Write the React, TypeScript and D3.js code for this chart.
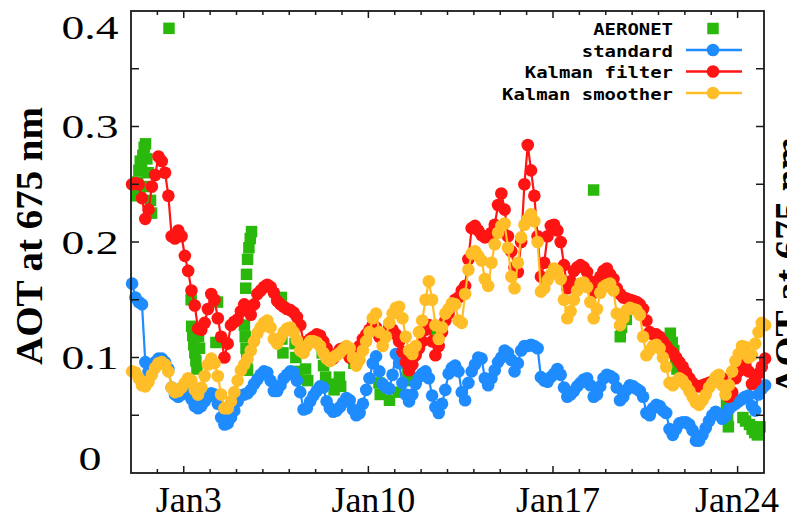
import React from 'react';
import * as d3 from 'd3';

const W = 787;
const H = 520;

const startDate = new Date(2013, 0, 1);
const endDate = new Date(2013, 0, 25);

// Model AOT, one value every 3 hours starting Jan 1 01:00 (8 per row = 1 day)
const standardAot = [
  0.164, 0.152, 0.148, 0.146, 0.096, 0.088, 0.090, 0.096,
  0.099, 0.099, 0.096, 0.090, 0.074, 0.068, 0.066, 0.068,
  0.072, 0.070, 0.064, 0.058, 0.056, 0.058, 0.062, 0.066,
  0.069, 0.068, 0.060, 0.048, 0.042, 0.043, 0.048, 0.054,
  0.062, 0.067, 0.068, 0.069, 0.072, 0.077, 0.081, 0.085,
  0.088, 0.087, 0.080, 0.071, 0.071, 0.076, 0.082, 0.085,
  0.088, 0.087, 0.080, 0.070, 0.055, 0.056, 0.062, 0.067,
  0.071, 0.075, 0.074, 0.062, 0.056, 0.053, 0.054, 0.057,
  0.061, 0.065, 0.063, 0.055, 0.050, 0.052, 0.060, 0.072,
  0.082, 0.095, 0.101, 0.088, 0.077, 0.074, 0.073, 0.085,
  0.103, 0.095, 0.078, 0.068, 0.062, 0.068, 0.077, 0.083,
  0.086, 0.088, 0.082, 0.067, 0.057, 0.052, 0.060, 0.072,
  0.086, 0.091, 0.093, 0.088, 0.070, 0.063, 0.078, 0.088,
  0.094, 0.100, 0.099, 0.082, 0.076, 0.082, 0.089, 0.096,
  0.100, 0.106, 0.104, 0.098, 0.088, 0.095, 0.106, 0.110,
  0.110, 0.111, 0.110, 0.108, 0.083, 0.080, 0.079, 0.083,
  0.086, 0.090, 0.085, 0.074, 0.066, 0.068, 0.071, 0.075,
  0.078, 0.081, 0.082, 0.076, 0.066, 0.068, 0.075, 0.082,
  0.085, 0.084, 0.082, 0.074, 0.063, 0.066, 0.072, 0.076,
  0.075, 0.073, 0.071, 0.066, 0.052, 0.050, 0.056, 0.059,
  0.058, 0.054, 0.052, 0.038, 0.033, 0.038, 0.043, 0.044,
  0.044, 0.042, 0.037, 0.028, 0.028, 0.033, 0.039, 0.045,
  0.050, 0.053, 0.051, 0.047, 0.049, 0.055, 0.058, 0.060,
  0.062, 0.064, 0.066, 0.067, 0.058, 0.054, 0.068, 0.073,
  0.076,
];

const filterAot = [
  0.250, 0.251, 0.250, 0.238, 0.220, 0.228, 0.248, 0.258,
  0.274, 0.270, 0.260, 0.240, 0.205, 0.203, 0.210, 0.205,
  0.188, 0.175, 0.158, 0.145, 0.125, 0.124, 0.130, 0.142,
  0.155, 0.150, 0.134, 0.118, 0.100, 0.112, 0.128, 0.131,
  0.133, 0.140, 0.146, 0.142, 0.137, 0.146, 0.155, 0.158,
  0.161, 0.163, 0.161, 0.156, 0.149, 0.146, 0.144, 0.142,
  0.141, 0.139, 0.135, 0.128, 0.113, 0.113, 0.116, 0.118,
  0.120, 0.119, 0.114, 0.108, 0.101, 0.099, 0.103, 0.107,
  0.108, 0.104, 0.100, 0.102, 0.105, 0.110, 0.116, 0.120,
  0.124, 0.128, 0.126, 0.118, 0.116, 0.122, 0.126, 0.124,
  0.120, 0.114, 0.105, 0.096, 0.089, 0.094, 0.102, 0.108,
  0.114, 0.124, 0.128, 0.114, 0.102, 0.110, 0.122, 0.132,
  0.138, 0.145, 0.150, 0.152, 0.158, 0.162, 0.185, 0.212,
  0.214, 0.210, 0.206, 0.204, 0.205, 0.208, 0.215, 0.232,
  0.242, 0.228, 0.205, 0.192, 0.178, 0.174, 0.200, 0.250,
  0.284, 0.262, 0.240, 0.205, 0.170, 0.182, 0.205, 0.214,
  0.215, 0.210, 0.200, 0.180, 0.160, 0.166, 0.175, 0.178,
  0.180, 0.178, 0.174, 0.166, 0.156, 0.160, 0.170, 0.175,
  0.177, 0.172, 0.168, 0.160, 0.155, 0.152, 0.151, 0.150,
  0.149, 0.148, 0.146, 0.142, 0.132, 0.122, 0.120, 0.120,
  0.118, 0.114, 0.110, 0.106, 0.104, 0.100, 0.096, 0.092,
  0.087, 0.082, 0.078, 0.075, 0.075, 0.076, 0.077, 0.078,
  0.079, 0.080, 0.081, 0.082, 0.076, 0.066, 0.070, 0.082,
  0.088, 0.092, 0.094, 0.088, 0.077, 0.080, 0.086, 0.092,
  0.099,
];

const smootherAot = [
  0.088, 0.087, 0.082, 0.076, 0.075, 0.079, 0.085, 0.091,
  0.095, 0.096, 0.094, 0.088, 0.074, 0.070, 0.071, 0.074,
  0.078, 0.082, 0.080, 0.072, 0.068, 0.074, 0.084, 0.094,
  0.099, 0.095, 0.084, 0.068, 0.056, 0.056, 0.062, 0.070,
  0.080, 0.089, 0.094, 0.099, 0.106, 0.114, 0.121, 0.126,
  0.130, 0.132, 0.126, 0.116, 0.112, 0.117, 0.122, 0.125,
  0.126, 0.122, 0.115, 0.106, 0.104, 0.110, 0.114, 0.114,
  0.113, 0.110, 0.104, 0.099, 0.097, 0.100, 0.102, 0.104,
  0.107, 0.110, 0.108, 0.100, 0.093, 0.098, 0.106, 0.114,
  0.122, 0.134, 0.138, 0.122, 0.110, 0.118, 0.130, 0.138,
  0.143, 0.144, 0.134, 0.118, 0.106, 0.103, 0.110, 0.122,
  0.132, 0.150, 0.166, 0.150, 0.128, 0.116, 0.126, 0.138,
  0.142, 0.147, 0.146, 0.132, 0.130, 0.155, 0.176, 0.190,
  0.192, 0.188, 0.184, 0.168, 0.162, 0.182, 0.198, 0.208,
  0.214, 0.216, 0.195, 0.170, 0.160, 0.182, 0.204, 0.215,
  0.220, 0.224, 0.218, 0.200, 0.157, 0.160, 0.167, 0.172,
  0.177, 0.175, 0.168, 0.150, 0.134, 0.140, 0.150, 0.158,
  0.164, 0.165, 0.161, 0.148, 0.134, 0.142, 0.156, 0.161,
  0.163, 0.164, 0.158, 0.138, 0.128, 0.134, 0.141, 0.143,
  0.142, 0.141, 0.137, 0.118, 0.102, 0.106, 0.110, 0.111,
  0.108, 0.100, 0.092, 0.078, 0.076, 0.079, 0.082, 0.080,
  0.076, 0.071, 0.066, 0.061, 0.059, 0.063, 0.068, 0.074,
  0.078, 0.083, 0.085, 0.076, 0.068, 0.076, 0.088, 0.097,
  0.103, 0.110, 0.109, 0.100, 0.102, 0.112, 0.122, 0.130,
  0.128,
];

// AERONET observations: days since Jan 1 00:00 and AOT
const aeronetDay = [
  0.22, 0.25, 0.30, 0.35, 0.40, 0.45, 0.50, 0.55, 0.60, 0.65, 0.70, 0.74, 0.78, 0.33,
  1.44,
  2.28, 2.30, 2.34, 2.38, 2.42, 2.46, 2.50, 2.56, 2.60,
  3.22, 3.28,
  4.30, 4.33, 4.36, 4.39, 4.42, 4.35, 4.38, 4.42, 4.47, 4.52, 4.57,
  5.70, 5.72, 5.76,
  6.22, 6.25, 6.28, 6.62, 6.70,
  7.25, 7.30, 7.38, 7.55, 7.70, 7.90, 7.95,
  8.35, 8.45,
  9.40, 9.45, 9.80, 10.15, 10.50, 10.55, 11.53,
  17.54,
  18.55, 18.60, 18.78,
  20.45, 20.52, 20.58, 20.65, 20.70,
  22.55, 22.58, 22.62, 22.65,
  23.20, 23.30, 23.45, 23.55, 23.65, 23.75, 23.85,
];
const aeronetAot = [
  0.240, 0.252, 0.262, 0.270, 0.266, 0.275, 0.282, 0.285, 0.272, 0.260, 0.248, 0.236, 0.225, 0.245,
  0.385,
  0.150, 0.127, 0.119, 0.111, 0.104, 0.097, 0.090, 0.118, 0.108,
  0.113, 0.148,
  0.128, 0.118, 0.108, 0.098, 0.089, 0.160, 0.172, 0.185, 0.195, 0.203, 0.209,
  0.152, 0.116, 0.104,
  0.112, 0.100, 0.088, 0.090, 0.080,
  0.104, 0.093, 0.083, 0.077, 0.072, 0.083, 0.075,
  0.105, 0.095,
  0.078, 0.068, 0.063, 0.070, 0.088, 0.080, 0.124,
  0.245,
  0.118, 0.126, 0.133,
  0.121, 0.113, 0.106, 0.098, 0.090,
  0.070, 0.060, 0.050, 0.040,
  0.048, 0.045, 0.042, 0.038, 0.035, 0.033, 0.040,
];

const yTickLabels = ['0', '0.1', '0.2', '0.3', '0.4'];
const yTickValues = [0, 0.1, 0.2, 0.3, 0.4];
const xMajorDays = [3, 10, 17, 24];
const seriesNames = ['AERONET', 'standard', 'Kalman filter', 'Kalman smoother'];
const seriesColors = ['#2bb80c', '#1e8cff', '#ff1414', '#ffbe28'];

const PLOT = { left: 131, right: 764, top: 11, bottom: 473 };

export default function App() {
  const x = d3.scaleTime().domain([startDate, endDate]).range([PLOT.left, PLOT.right]);
  const y = d3.scaleLinear().domain([0, 0.4]).range([PLOT.bottom, PLOT.top]);

  const times = standardAot.map((_, i) => d3.timeHour.offset(startDate, 1 + 3 * i));
  const line = d3
    .line<number>()
    .x((_, i) => x(times[i]))
    .y((v) => y(v));

  const modelSeries = [
    { values: standardAot, color: seriesColors[1] },
    { values: filterAot, color: seriesColors[2] },
    { values: smootherAot, color: seriesColors[3] },
  ];

  const aeronetPoints = aeronetDay.map((d, i) => ({
    t: new Date(startDate.getTime() + d * 864e5),
    v: aeronetAot[i],
  }));

  const dayTicks = d3.timeDay.range(d3.timeDay.offset(startDate, 1), endDate);
  const majorDates = xMajorDays.map((d) => new Date(2013, 0, d));
  const isMajor = (t: Date) => xMajorDays.includes(t.getDate());
  const yMinor = d3.range(0.05, 0.4, 0.05);
  const fmt = d3.timeFormat('%b%-d');

  const sq = 11.5;
  const r = 6.3;
  const legendRows = [35, 56.5, 78, 99.5];
  const legendTextRight = 673;
  const legendLineX = [686, 742];
  const legendMarkX = 713;

  return (
    <svg
      width={W}
      height={H}
      viewBox={`0 0 ${W} ${H}`}
      style={{ position: 'absolute', left: 0, top: 0, background: '#fff' }}
    >
      <rect x={0} y={0} width={W} height={H} fill="#fff" />

      {/* AERONET squares */}
      <g fill={seriesColors[0]}>
        {aeronetPoints.map((p, i) => (
          <rect key={i} x={x(p.t) - sq / 2} y={y(p.v) - sq / 2} width={sq} height={sq} />
        ))}
      </g>

      {/* model series: line + filled circle markers */}
      {modelSeries.map((s, k) => (
        <g key={k}>
          <path d={line(s.values) || ''} fill="none" stroke={s.color} strokeWidth={2.2} />
          <g fill={s.color}>
            {s.values.map((v, i) => (
              <circle key={i} cx={x(times[i])} cy={y(v)} r={r} />
            ))}
          </g>
        </g>
      ))}

      {/* frame */}
      <rect
        x={PLOT.left}
        y={PLOT.top}
        width={PLOT.right - PLOT.left}
        height={PLOT.bottom - PLOT.top}
        fill="none"
        stroke="#1a1a1a"
        strokeWidth={1.8}
      />

      {/* x ticks, top and bottom, pointing inward; y ticks left and right */}
      <g stroke="#1a1a1a" strokeWidth={1.5}>
        {dayTicks.map((t, i) => {
          const len = isMajor(t) ? 7 : 4;
          const xx = x(t);
          return (
            <g key={i}>
              <line x1={xx} x2={xx} y1={PLOT.bottom} y2={PLOT.bottom - len} />
              <line x1={xx} x2={xx} y1={PLOT.top} y2={PLOT.top + len} />
            </g>
          );
        })}
        {yMinor.map((v, i) => (
          <g key={i}>
            <line x1={PLOT.left} x2={PLOT.left + 8} y1={y(v)} y2={y(v)} />
            <line x1={PLOT.right} x2={PLOT.right - 8} y1={y(v)} y2={y(v)} />
          </g>
        ))}
      </g>

      {/* y tick labels */}
      <g fontFamily="'Liberation Serif', 'Times New Roman', serif" fontSize={34} fill="#000" textAnchor="middle">
        {yTickValues.map((v, i) => {
          let yy = y(v) + 11.5;
          yy = Math.max(yy, 39);
          yy = Math.min(yy, 470);
          const label = yTickLabels[i];
          return (
            <text
              key={i}
              x={90}
              y={yy}
              textLength={label.length > 1 ? 57 : 23}
              lengthAdjust="spacingAndGlyphs"
            >
              {label}
            </text>
          );
        })}
      </g>

      {/* x tick labels */}
      <g fontFamily="'Liberation Serif', 'Times New Roman', serif" fontSize={36} fill="#000" textAnchor="middle">
        {majorDates.map((t, i) => {
          const label = fmt(t);
          const half = label.length * 9.2;
          const cx = Math.min(x(t) + 5, W - 4 - half);
          return (
            <text key={i} x={cx} y={512}>
              {label}
            </text>
          );
        })}
      </g>

      {/* y axis title */}
      <text
        transform="translate(42,236) rotate(-90)"
        textAnchor="middle"
        fontFamily="'Liberation Serif', 'Times New Roman', serif"
        fontWeight="bold"
        fontSize={38}
        textLength={258}
        lengthAdjust="spacingAndGlyphs"
        fill="#000"
      >
        AOT at 675 nm
      </text>

      {/* neighbouring panel's axis title, cut by the edge */}
      <text
        transform="translate(801,266) rotate(-90)"
        textAnchor="middle"
        fontFamily="'Liberation Serif', 'Times New Roman', serif"
        fontWeight="bold"
        fontSize={38}
        textLength={258}
        lengthAdjust="spacingAndGlyphs"
        fill="#000"
      >
        AOT at 675 nm
      </text>

      {/* legend */}
      <g fontFamily="'DejaVu Sans Mono', monospace" fontWeight="bold" fontSize={16} fill="#000">
        {seriesNames.map((name, i) => {
          const base = legendRows[i];
          const cy = base - 6.5;
          return (
            <g key={i}>
              <text
                x={legendTextRight}
                y={base}
                textAnchor="end"
                textLength={name.length * 11.4}
                lengthAdjust="spacingAndGlyphs"
              >
                {name}
              </text>
              {i === 0 ? (
                <rect x={legendMarkX - sq / 2} y={cy - sq / 2} width={sq} height={sq} fill={seriesColors[0]} />
              ) : (
                <g>
                  <line
                    x1={legendLineX[0]}
                    x2={legendLineX[1]}
                    y1={cy}
                    y2={cy}
                    stroke={seriesColors[i]}
                    strokeWidth={2.4}
                  />
                  <circle cx={legendMarkX} cy={cy} r={r} fill={seriesColors[i]} />
                </g>
              )}
            </g>
          );
        })}
      </g>
    </svg>
  );
}
